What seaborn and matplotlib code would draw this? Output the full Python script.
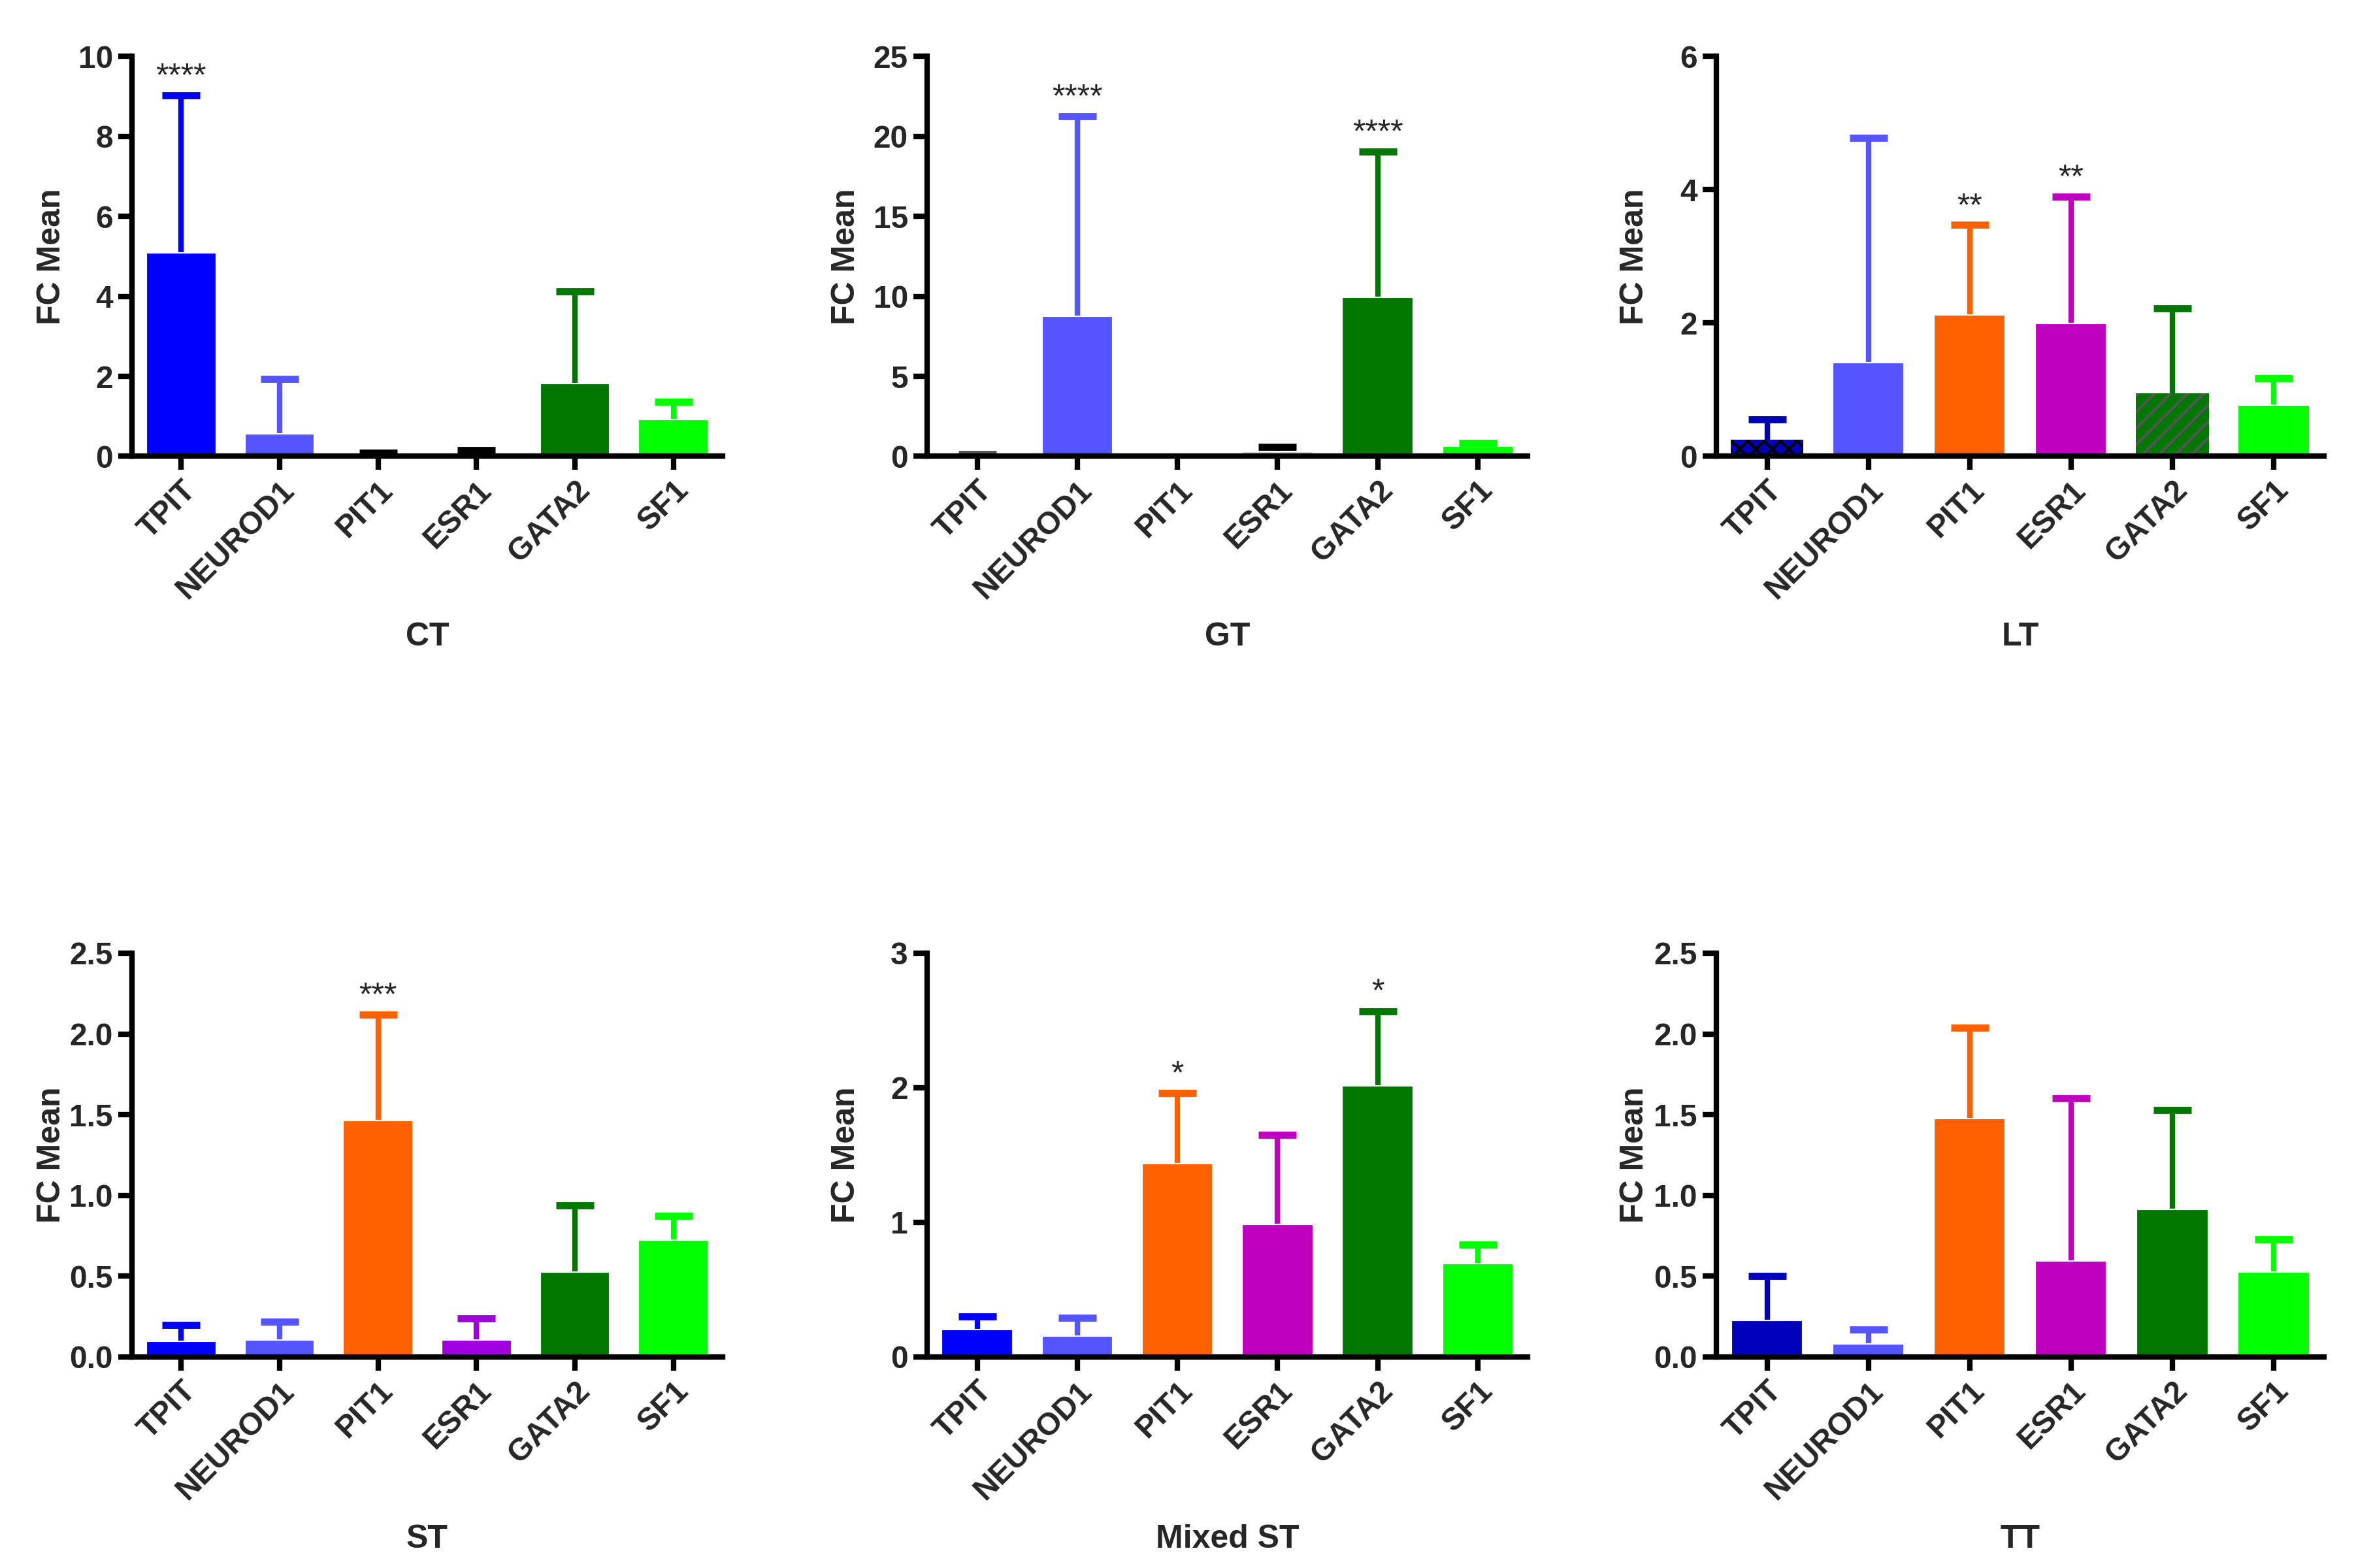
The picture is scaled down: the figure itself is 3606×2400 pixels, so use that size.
import numpy as np
import pandas as pd
import matplotlib
matplotlib.use("Agg")
from matplotlib import pyplot as plt
import seaborn as sns

# categories
genes = ['TPIT', 'NEUROD1', 'PIT1', 'ESR1', 'GATA2', 'SF1']
panels = ['CT', 'GT', 'LT', 'ST', 'Mixed ST', 'TT']

# FC mean (bar height) and top of the error bar
ct_mean = [5.1, 0.58, 0.04, 0.04, 1.83, 0.93]
ct_upper = [9.02, 1.93, 0.09, 0.15, 4.12, 1.36]
gt_mean = [0.1, 8.8, 0.0, 0.33, 9.97, 0.68]
gt_upper = [0.15, 21.25, 0.0, 0.6, 19.05, 0.82]
lt_mean = [0.25, 1.42, 2.13, 2.0, 0.95, 0.78]
lt_upper = [0.55, 4.78, 3.47, 3.9, 2.22, 1.17]
st_mean = [0.10, 0.11, 1.47, 0.11, 0.53, 0.73]
st_upper = [0.20, 0.22, 2.12, 0.24, 0.94, 0.875]
mst_mean = [0.21, 0.16, 1.44, 0.99, 2.02, 0.70]
mst_upper = [0.30, 0.29, 1.96, 1.65, 2.57, 0.835]
tt_mean = [0.23, 0.084, 1.48, 0.60, 0.92, 0.53]
tt_upper = [0.50, 0.17, 2.04, 1.60, 1.53, 0.73]

# significance marks: (gene, label)
ct_stars = [('TPIT', '****')]
gt_stars = [('NEUROD1', '****'), ('GATA2', '****')]
lt_stars = [('PIT1', '**'), ('ESR1', '**')]
st_stars = [('PIT1', '***')]
mst_stars = [('PIT1', '*'), ('GATA2', '*')]
tt_stars = []

# y axis ranges and ticks
y_max = [10, 25, 6, 2.5, 3, 2.5]
y_step = [2, 5, 2, 0.5, 1, 0.5]

blue, dblue, lblue = '#0000FF', '#0000BB', '#5555FF'
orange, magenta, purple = '#FF6000', '#BF00BF', '#A000E0'
green, lgreen, gray = '#007800', '#00FF00', '#D0D0D0'

bar_colors = [
    [blue, lblue, gray, gray, green, lgreen],
    [gray, lblue, gray, gray, green, lgreen],
    [dblue, lblue, orange, magenta, green, lgreen],
    [blue, lblue, orange, purple, green, lgreen],
    [blue, lblue, orange, magenta, green, lgreen],
    [dblue, lblue, orange, magenta, green, lgreen],
]
err_colors = [
    [blue, lblue, 'black', 'black', green, lgreen],
    ['#555555', lblue, 'black', 'black', green, lgreen],
    [dblue, lblue, orange, magenta, green, lgreen],
    [blue, lblue, orange, purple, green, lgreen],
    [blue, lblue, orange, magenta, green, lgreen],
    [dblue, lblue, orange, magenta, green, lgreen],
]

means = [ct_mean, gt_mean, lt_mean, st_mean, mst_mean, tt_mean]
uppers = [ct_upper, gt_upper, lt_upper, st_upper, mst_upper, tt_upper]
stars = [ct_stars, gt_stars, lt_stars, st_stars, mst_stars, tt_stars]

sns.set_style('white')
plt.rcParams['font.family'] = ['Liberation Sans', 'DejaVu Sans']

fig = plt.figure(figsize=(12.02, 8), dpi=300)
lefts = [0.056, 0.3935, 0.7285]
widths = [0.2507, 0.255, 0.258]
bottoms = [0.709, 0.1346]
heights = [0.255, 0.2575]

for i, name in enumerate(panels):
    r, c = divmod(i, 3)
    ax = fig.add_axes([lefts[c], bottoms[r], widths[c], heights[r]])
    df = pd.DataFrame({'gene': genes, 'mean': means[i]})
    sns.barplot(data=df, x='gene', y='mean', hue='gene',
                palette=dict(zip(genes, bar_colors[i])), legend=False,
                errorbar=None, width=0.72, saturation=1, ax=ax)
    mean = np.array(means[i])
    up = np.array(uppers[i])
    for j in range(len(genes)):
        if up[j] <= 0:
            continue
        eb = ax.errorbar(j, mean[j], yerr=[[0], [up[j] - mean[j]]], fmt='none',
                         ecolor=err_colors[i][j], elinewidth=2.0, capsize=7,
                         capthick=2.6, zorder=1)
        eb[1][0].set_visible(False)  # only the upper cap
    # hatched bars in the LT panel
    if name == 'LT':
        for p, h, hc in [(ax.patches[0], 'xxxx', 'black'), (ax.patches[4], '////', '#555555')]:
            p.set_hatch(h)
            p.set_edgecolor(hc)
            p.set_linewidth(0)
    for g, lab in stars[i]:
        j = genes.index(g)
        ax.text(j, up[j] + y_max[i] * 0.045, lab, ha='center', va='center',
                fontsize=12)
    ax.set_xlim(-0.5, 5.5)
    ax.set_ylim(0, y_max[i])
    ticks = np.arange(0, y_max[i] + y_step[i] / 2, y_step[i])
    ax.set_yticks(ticks)
    if y_step[i] < 1:
        ax.set_yticklabels([f'{t:.1f}' for t in ticks])
    else:
        ax.set_yticklabels([f'{t:g}' for t in ticks])
    ax.set_xticks(range(len(genes)))
    ax.set_xticklabels(genes, rotation=45, ha='right', rotation_mode='anchor')
    for lab in ax.get_xticklabels() + ax.get_yticklabels():
        lab.set_fontweight('bold')
        lab.set_fontsize(11.5)
    sns.despine(ax=ax)
    for s in ['left', 'bottom']:
        ax.spines[s].set_linewidth(2.0)
        ax.spines[s].set_color('black')
    ax.tick_params(axis='both', direction='out', length=5, width=2.0,
                   color='black', left=True, bottom=True, pad=2)
    ax.set_ylabel('FC Mean', fontsize=12, fontweight='bold')
    ax.yaxis.set_label_coords(-0.11, 0.5)
    ax.set_xlabel(name, fontsize=12, fontweight='bold')
    ax.xaxis.set_label_coords(0.5, -0.415)

fig.savefig('out.png', dpi=300, facecolor='white')
